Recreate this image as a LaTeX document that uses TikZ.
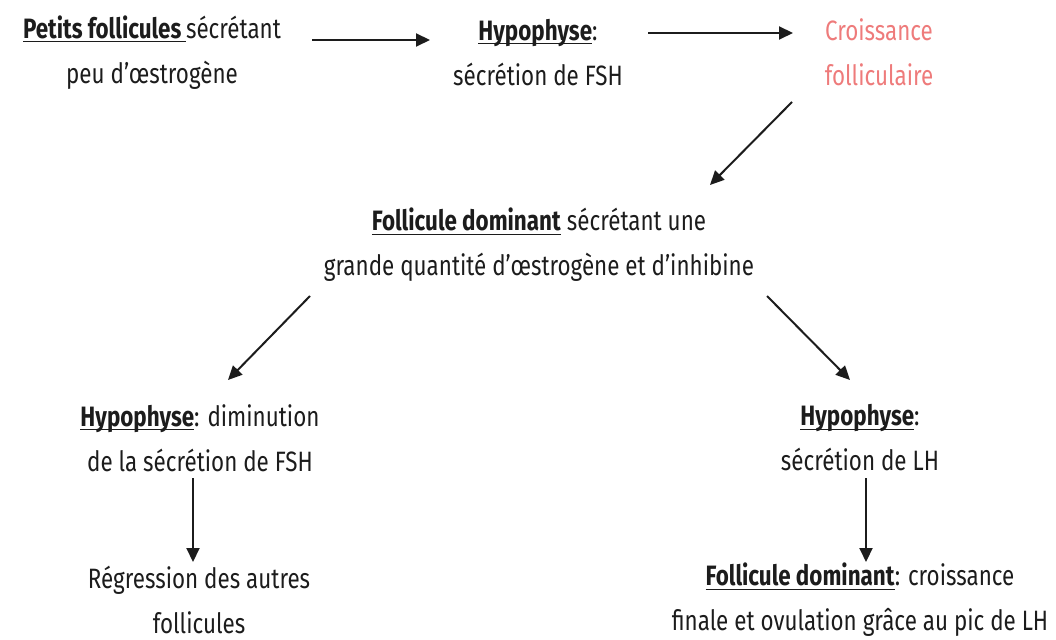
\documentclass[tikz,border=0pt]{standalone}
\usepackage{fontspec}
\usetikzlibrary{arrows.meta,calc}
\setmainfont{Fira Sans}[FakeStretch=0.8]
\definecolor{ink}{HTML}{1C1C1C}
\definecolor{salmon}{HTML}{EE7B7B}
\newsavebox{\ulbox}
\newcommand{\myul}[1]{\sbox{\ulbox}{#1}\rlap{\rule[-4pt]{\wd\ulbox}{1.3pt}}\usebox{\ulbox}}
\newcommand{\ub}[1]{\myul{\textbf{#1}}}
\tikzset{
  txt/.style={align=center, inner sep=0pt, text=ink, font=\fontsize{28}{45}\selectfont},
  arr/.style={draw=ink, line width=2pt, -{Triangle[length=14pt,width=13pt]}}
}
\begin{document}
\begin{tikzpicture}[x=1pt,y=-1pt]
\useasboundingbox (0,0) rectangle (1056,639);
\node[txt] (A) at (152,52.5) {\myul{\textbf{Petits follicules}\,}sécrétant\\peu d’œstrogène};
\node[txt] (B) at (538,52.5) {\ub{Hypophyse}:\\sécrétion de FSH};
\node[txt, text=salmon] (C) at (879,52.5) {Croissance\\folliculaire};
\node[txt] (D) at (539,245) {\ub{Follicule dominant} sécrétant une\\grande quantité d’œstrogène et d’inhibine};
\node[txt] (E) at (200,438) {\ub{Hypophyse}: diminution\\de la sécrétion de FSH};
\node[txt] (F) at (199,600) {Régression des autres\\follicules};
\node[txt] (G) at (860,438) {\ub{Hypophyse}:\\sécrétion de LH};
\node[txt] (H) at (860,600) {\ub{Follicule dominant}: croissance\\finale et ovulation grâce au pic de LH};
\draw[arr] ($(A.center)+(160,-12.5)$) -- ($(B.center)+(-108,-12.5)$);
\draw[arr] ($(B.center)+(110,-19.5)$) -- ($(C.center)+(-86,-19.5)$);
\draw[arr] ($(C.center)+(-87,49.5)$) -- ($(D.center)+(171,-60)$);
\draw[arr] ($(D.center)+(-229,51)$) -- ($(E.center)+(28,-58)$);
\draw[arr] ($(D.center)+(228,51)$) -- ($(G.center)+(-10,-58)$);
\draw[arr] ($(E.center)+(-7,40)$) -- ($(F.center)+(-6,-38)$);
\draw[arr] ($(G.center)+(6,40)$) -- ($(H.center)+(6,-38)$);
\end{tikzpicture}
\end{document}
